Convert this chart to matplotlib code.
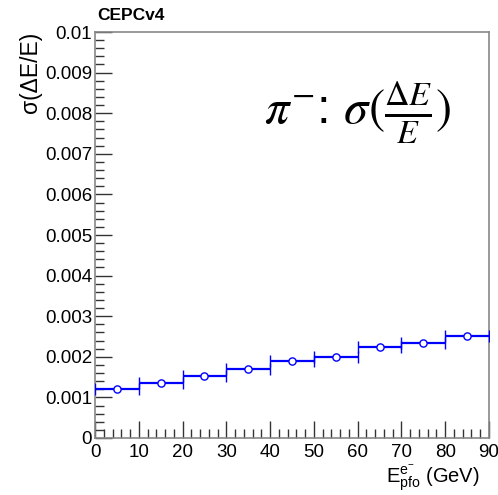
import matplotlib
matplotlib.use("Agg")
import matplotlib.pyplot as plt
from matplotlib.ticker import MultipleLocator
import numpy as np

bin_centers = [5, 15, 25, 35, 45, 55, 65, 75, 85]
bin_halfwidth = [5, 5, 5, 5, 5, 5, 5, 5, 5]
sigma_values = [0.00121, 0.00135, 0.00153, 0.00171, 0.00189, 0.00199, 0.00223, 0.00234, 0.00251]
y_ticks = [0, 0.001, 0.002, 0.003, 0.004, 0.005, 0.006, 0.007, 0.008, 0.009, 0.01]
y_tick_labels = ["0", "0.001", "0.002", "0.003", "0.004", "0.005", "0.006", "0.007", "0.008", "0.009", "0.01"]
x_ticks = [0, 10, 20, 30, 40, 50, 60, 70, 80, 90]

plt.rcParams['font.family'] = ['Liberation Sans', 'DejaVu Sans']
plt.rcParams['mathtext.fontset'] = 'stix'

fig = plt.figure(figsize=(4.98, 4.95), dpi=100)
ax = fig.add_axes([95/498, 1 - 438/495, (489 - 95)/498, (438 - 32)/495])

ax.errorbar(bin_centers, sigma_values, xerr=bin_halfwidth, fmt='o', color='#0000ff',
            mfc='white', mec='#0000ff', ms=5.2, mew=1.0, elinewidth=1.6, capsize=4,
            capthick=1.2, zorder=3)

ax.set_xlim(0, 90)
ax.set_ylim(0, 0.01)
ax.set_yticks(y_ticks)
ax.set_yticklabels(y_tick_labels)
ax.set_xticks(x_ticks)
ax.xaxis.set_minor_locator(MultipleLocator(2))
ax.yaxis.set_minor_locator(MultipleLocator(0.0002))
ax.tick_params(which='both', direction='in', top=False, right=False, labelsize=13.5, color='#333333')
ax.tick_params(which='major', length=12, width=1)
ax.tick_params(which='minor', length=6.5, width=1)
ax.tick_params(axis='x', pad=4)
ax.tick_params(axis='y', pad=2)
for s in ax.spines.values():
    s.set_color('#888888')
    s.set_linewidth(1.2)

ax.set_ylabel(r'σ(ΔE/E)', fontsize=16.5, loc='top', labelpad=2)
ax.set_xlabel(r'$\mathregular{E_{pfo}^{e^{-}}}$ (GeV)', fontsize=14.5, loc='right')
ax.xaxis.set_label_coords(0.977, -0.063)

fig.text(97/498, 1 - 15/495, 'CEPCv4', fontsize=12.5, fontweight='bold', va='center', ha='left')

ax.text(0.43, 0.80, r'$\pi^{-}$: $\sigma(\frac{\Delta E}{E})$', transform=ax.transAxes,
        fontsize=35, ha='left', va='center')

fig.savefig('out.png', dpi=100)
